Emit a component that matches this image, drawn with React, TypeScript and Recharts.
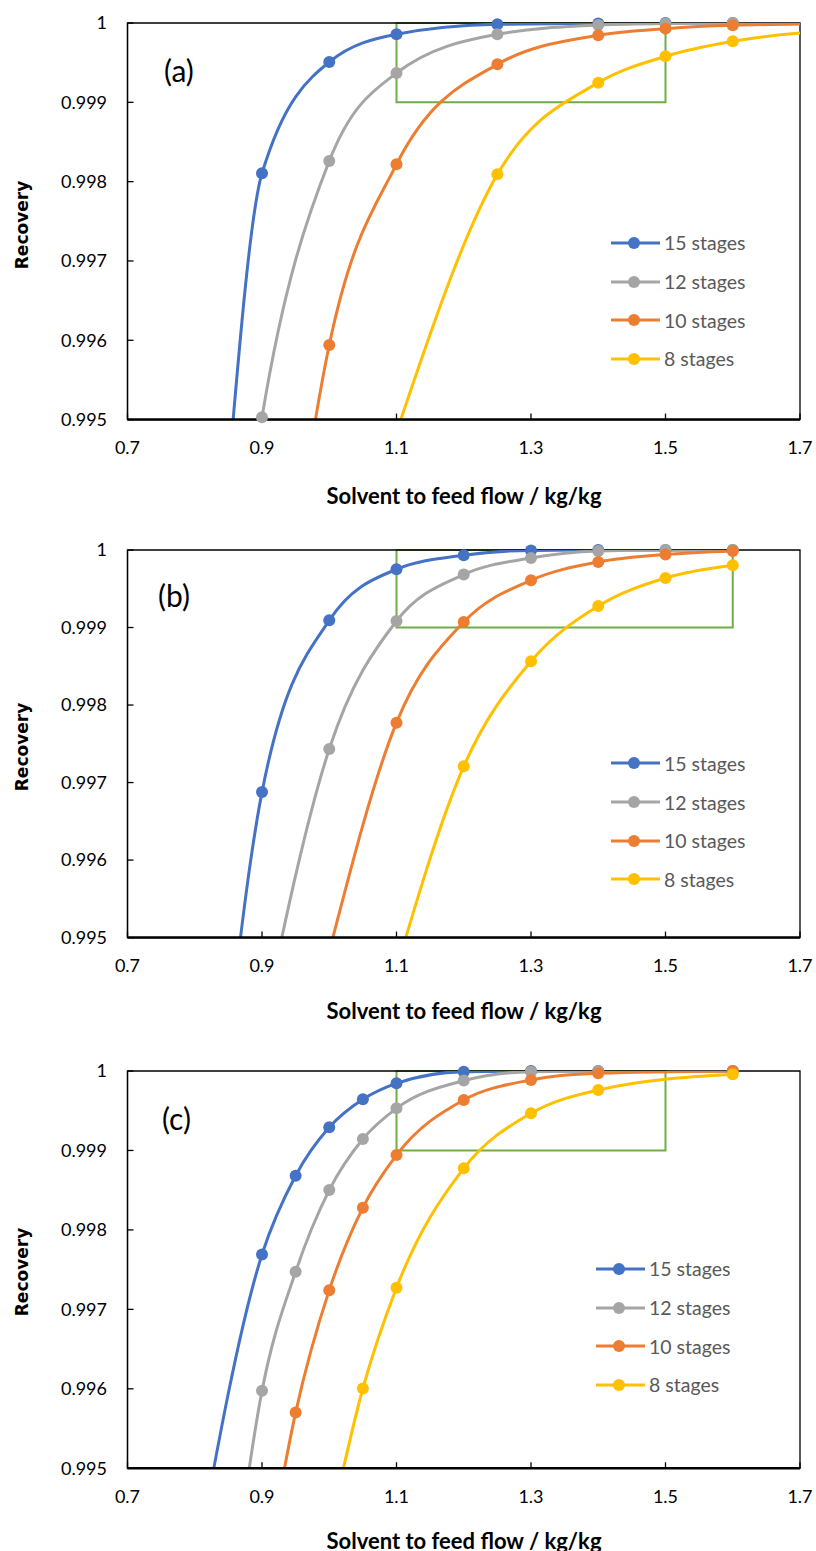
import React from "react";
import { LineChart, Line, XAxis, YAxis, ReferenceArea, Legend } from "recharts";

const xTicks = [0.7, 0.9, 1.1, 1.3, 1.5, 1.7];
const yTicks = [0.995, 0.996, 0.997, 0.998, 0.999, 1];
const seriesKeys = ["s15", "s12", "s10", "s8"];
const seriesNames = ["15 stages", "12 stages", "10 stages", "8 stages"];
const seriesColors = ["#4472C4", "#A5A5A5", "#ED7D31", "#FFC000"];

// panel (a)
const flowA = [0.85, 0.9, 1.0, 1.1, 1.25, 1.4, 1.5, 1.6, 1.8];
const s15A = [0.9943, 0.998105, 0.999508, 0.999858, 0.999984, 0.999995, 1, 1, 1];
const s12A = [0.992, 0.99503, 0.99826, 0.999369, 0.999857, 0.999975, 0.999995, 1, 1];
const s10A = [null, 0.9901, 0.99594, 0.998218, 0.999479, 0.999845, 0.999929, 0.999971, 0.999995];
const s8A = [null, null, null, 0.99484, 0.998092, 0.999248, 0.99958, 0.999769, 0.99992];

// panel (b)
const flowB = [0.8, 0.9, 1.0, 1.1, 1.2, 1.3, 1.4, 1.5, 1.6];
const s15B = [0.9891, 0.996877, 0.999093, 0.999751, 0.999932, 0.999995, 1, 1, 1];
const s12B = [null, 0.9938, 0.997432, 0.999084, 0.999683, 0.999897, 0.999987, 1, 1];
const s10B = [null, null, 0.99482, 0.997773, 0.999071, 0.999609, 0.999845, 0.999941, 0.999987];
const s8B = [null, null, null, 0.9946, 0.997209, 0.998564, 0.999277, 0.999639, 0.999803];

// panel (c)
const flowC = [0.8, 0.85, 0.9, 0.95, 1.0, 1.05, 1.1, 1.2, 1.3, 1.4, 1.6];
const s15C = [0.9937, null, 0.997691, 0.998682, 0.999291, 0.999644, 0.999845, 0.999992, 1, 1, 1];
const s12C = [null, 0.9931, 0.995975, 0.997473, 0.998501, 0.999144, 0.99953, 0.999879, 0.999992, 1, 1];
const s10C = [null, null, 0.9934, 0.995701, 0.997242, 0.99828, 0.998942, 0.999635, 0.999887, 0.999971, 1];
const s8C = [null, null, null, null, 0.9942, 0.996004, 0.997272, 0.998775, 0.999467, 0.999761, 0.999958];

// green target boxes: [x1, x2, y1, y2]
const boxA = [1.1, 1.5, 0.999, 1];
const boxB = [1.1, 1.6, 0.999, 1];
const boxC = [1.1, 1.5, 0.999, 1];

const makeRows = (flow: number[], cols: (number | null)[][]) =>
  flow.map((x, i) => {
    const row: any = { x };
    seriesKeys.forEach((k, j) => (row[k] = cols[j][i]));
    return row;
  });

const rowsA = makeRows(flowA, [s15A, s12A, s10A, s8A]);
const rowsB = makeRows(flowB, [s15B, s12B, s10B, s8B]);
const rowsC = makeRows(flowC, [s15C, s12C, s10C, s8C]);

const tickFont = { fontFamily: "Lato", fontSize: 18, fill: "#000" };

const renderLegend = (props: any) => {
  const items = [...(props.payload || [])].sort(
    (a: any, b: any) => seriesNames.indexOf(a.value) - seriesNames.indexOf(b.value)
  );
  return (
    <div style={{ fontFamily: "Lato", fontSize: 19.5, color: "#595959" }}>
      {items.map((e: any) => (
        <div key={e.value} style={{ display: "flex", alignItems: "center", height: 38.7 }}>
          <svg width={50} height={14} style={{ marginRight: 3 }}>
            <line x1={0} y1={7} x2={49} y2={7} stroke={e.color} strokeWidth={3} />
            <circle cx={23} cy={7} r={6} fill={e.color} />
          </svg>
          <span>{e.value}</span>
        </div>
      ))}
    </div>
  );
};

interface PanelProps {
  rows: any[];
  box: number[];
  plotTop: number;
  plotBottom: number;
  legendLeft: number;
  legendTop: number;
}

function Panel({ rows, box, plotTop, plotBottom, legendLeft, legendTop }: PanelProps) {
  const chartTop = plotTop - 20;
  const height = plotBottom - plotTop + 60;
  return (
    <div style={{ position: "absolute", left: 0, top: chartTop }}>
      <LineChart
        width={816}
        height={height}
        data={rows}
        margin={{ top: 20, right: 16, bottom: 0, left: 67.5 }}
      >
        <XAxis
          dataKey="x"
          type="number"
          domain={[0.7, 1.7]}
          ticks={xTicks}
          interval={0}
          allowDataOverflow
          height={40}
          tick={tickFont}
          tickSize={-6}
          tickMargin={28}
          tickLine={{ stroke: "#000", strokeWidth: 1.3 }}
          axisLine={{ stroke: "#000", strokeWidth: 2.5 }}
        />
        <YAxis
          type="number"
          domain={[0.995, 1]}
          ticks={yTicks}
          interval={0}
          allowDataOverflow
          width={60}
          tick={tickFont}
          tickSize={-6}
          tickMargin={26.5}
          tickLine={{ stroke: "#000", strokeWidth: 1.3 }}
          axisLine={{ stroke: "#000", strokeWidth: 1.3 }}
        />
        <ReferenceArea
          x1={box[0]}
          x2={box[1]}
          y1={box[2]}
          y2={box[3]}
          fill="none"
          stroke="#70AD47"
          strokeWidth={2}
        />
        <ReferenceArea x1={0.7} x2={1.7} y1={0.995} y2={1} fill="none" stroke="#000" strokeWidth={1.3} />
        {seriesKeys.map((k, j) => (
          <Line
            key={k}
            type="monotone"
            dataKey={k}
            name={seriesNames[j]}
            stroke={seriesColors[j]}
            strokeWidth={3}
            connectNulls
            dot={{ r: 6, fill: seriesColors[j], stroke: seriesColors[j], strokeWidth: 0, clipDot: false }}
            activeDot={false}
            isAnimationActive={false}
          />
        ))}
        <Legend
          layout="vertical"
          align="center"
          verticalAlign="middle"
          width={200}
          content={renderLegend}
          wrapperStyle={{ left: legendLeft, top: legendTop - chartTop, width: 200 }}
        />
      </LineChart>
    </div>
  );
}

const titleStyle: React.CSSProperties = {
  position: "absolute",
  left: 464,
  transform: "translate(-50%, -50%)",
  whiteSpace: "nowrap",
  fontFamily: "Lato",
  fontWeight: 700,
  fontSize: 22,
  color: "#000",
};

const yTitleStyle: React.CSSProperties = {
  position: "absolute",
  left: 22,
  transform: "translate(-50%, -50%) rotate(-90deg)",
  whiteSpace: "nowrap",
  fontFamily: "DejaVu Sans",
  fontWeight: 700,
  fontSize: 17,
  color: "#000",
};

const tagStyle: React.CSSProperties = {
  position: "absolute",
  fontFamily: "Lato",
  fontSize: 30,
  lineHeight: "30px",
  color: "#000",
};

export default function App() {
  return (
    <div style={{ position: "absolute", left: 0, top: 0, width: 816, height: 1551, background: "#fff" }}>
      <Panel rows={rowsA} box={boxA} plotTop={22.7} plotBottom={419.3} legendLeft={611} legendTop={223.5} />
      <Panel rows={rowsB} box={boxB} plotTop={549.7} plotBottom={937.3} legendLeft={611} legendTop={744.1} />
      <Panel rows={rowsC} box={boxC} plotTop={1070.7} plotBottom={1468} legendLeft={596} legendTop={1249.6} />

      <div style={{ ...tagStyle, left: 164, top: 55 }}>(a)</div>
      <div style={{ ...tagStyle, left: 158, top: 580 }}>(b)</div>
      <div style={{ ...tagStyle, left: 162, top: 1103 }}>(c)</div>

      <div style={{ ...titleStyle, top: 495 }}>Solvent to feed flow / kg/kg</div>
      <div style={{ ...titleStyle, top: 1010 }}>Solvent to feed flow / kg/kg</div>
      <div style={{ ...titleStyle, top: 1540 }}>Solvent to feed flow / kg/kg</div>

      <div style={{ ...yTitleStyle, top: 225 }}>Recovery</div>
      <div style={{ ...yTitleStyle, top: 747 }}>Recovery</div>
      <div style={{ ...yTitleStyle, top: 1272 }}>Recovery</div>
    </div>
  );
}
